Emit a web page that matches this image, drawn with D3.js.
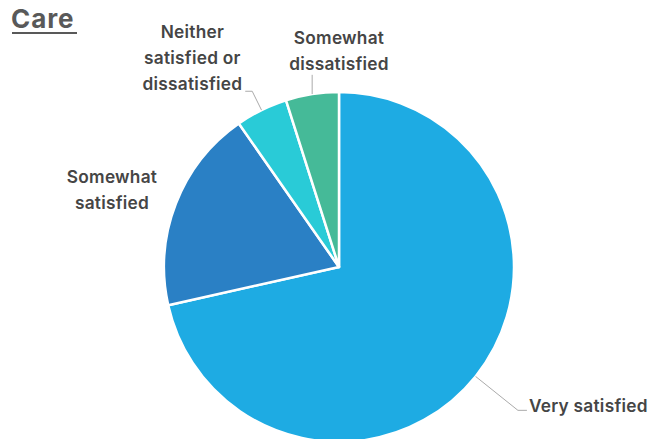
<!DOCTYPE html>
<html><head><meta charset="utf-8">
<script src="https://cdn.jsdelivr.net/npm/d3@7"></script>
<style>
html,body{margin:0;padding:0;background:#fff;}
svg{display:block;}
text{font-family:Inter, "Noto Sans", sans-serif;}
</style></head>
<body>
<svg id="chart" width="659" height="439"></svg>
<script>
const title = "Care";
const categories = ["Very satisfied", "Somewhat satisfied", "Neither satisfied or dissatisfied", "Somewhat dissatisfied"];
const values = [71.5, 18.8, 4.8, 4.9];
const labelLines = [["Very satisfied"], ["Somewhat", "satisfied"], ["Neither", "satisfied or", "dissatisfied"], ["Somewhat", "dissatisfied"]];
const colors = ["#1eabe3", "#2a80c5", "#29cbd7", "#45ba98"];

const W = 659, H = 439;
const cx = 339, cy = 267, R = 175;
const svg = d3.select("#chart");

// title
svg.append("text").attr("x", 11).attr("y", 28)
  .attr("font-size", 26).attr("font-weight", 700).attr("letter-spacing", 0.9).attr("fill", "#595959").text(title);
svg.append("rect").attr("x", 12).attr("y", 32).attr("width", 65).attr("height", 2).attr("fill", "#595959");

const data = categories.map((c, i) => ({cat: c, value: values[i], lines: labelLines[i], color: colors[i]}));
const pie = d3.pie().value(d => d.value).sort(null).startAngle(0).endAngle(2 * Math.PI);
const arcs = pie(data);
const arc = d3.arc().innerRadius(0).outerRadius(R);
const color = d3.scaleOrdinal().domain(categories).range(colors);

const g = svg.append("g").attr("transform", `translate(${cx},${cy})`);
g.selectAll("path").data(arcs).join("path")
  .attr("d", arc).attr("fill", d => color(d.data.cat))
  .attr("stroke", "#fff").attr("stroke-width", 2.5).attr("stroke-linejoin", "round");

// label layout (style config)
const layout = [
  {elbow: 1.31, run: 9, anchor: "start", dx: 2, dy: 1.5, vertical: false},
  {elbow: null},
  {elbow: 1.12, run: -7, anchor: "end", dx: -3, dy: -1.5, vertical: false},
  {elbow: 0.11, run: 0, anchor: "middle", vertical: true}
];
const pt = (a, r) => [Math.sin(a) * r, -Math.cos(a) * r];
const fs = 17.3, lh = 26, ls = 0.25;
const mkText = () => g.append("text").attr("font-size", fs).attr("font-weight", 600)
  .attr("letter-spacing", ls).attr("fill", "#454545");

arcs.forEach((a, i) => {
  const L = layout[i];
  const mid = (a.startAngle + a.endAngle) / 2;
  const p0 = pt(mid, R);
  let tx, ty, anchor = "middle";
  const n = a.data.lines.length;
  if (L.elbow === null) {
    tx = -227; ty = -84;
    anchor = "middle";
  } else if (L.vertical) {
    const p1 = [p0[0], p0[1] - R * L.elbow];
    g.append("polyline").attr("points", [p0, p1].map(p => p.join(",")).join(" "))
      .attr("fill", "none").attr("stroke", "#aaa").attr("stroke-width", 1);
    tx = 0; ty = p1[1] - 5 - (n - 1) * lh;
    anchor = "middle";
  } else {
    const p1 = pt(mid, R * L.elbow);
    const p2 = [p1[0] + L.run, p1[1]];
    g.append("polyline").attr("points", [p0, p1, p2].map(p => p.join(",")).join(" "))
      .attr("fill", "none").attr("stroke", "#aaa").attr("stroke-width", 1);
    if (L.anchor === "start") {
      tx = p2[0] + L.dx; ty = p2[1] + L.dy; anchor = "start";
    } else {
      ty = p2[1] + L.dy - (n - 1) * lh;
      const txt = mkText();
      a.data.lines.forEach((s, k) => txt.append("tspan").attr("x", 0).attr("y", ty + k * lh).text(s));
      const widths = txt.selectAll("tspan").nodes().map(nd => nd.getComputedTextLength());
      const lastW = widths[widths.length - 1];
      const centerX = p2[0] + L.dx - lastW / 2;
      txt.attr("text-anchor", "middle").selectAll("tspan").attr("x", centerX);
      return;
    }
  }
  const txt = mkText().attr("text-anchor", anchor);
  a.data.lines.forEach((s, k) => txt.append("tspan").attr("x", tx).attr("y", ty + k * lh).text(s));
});
</script>
</body></html>
